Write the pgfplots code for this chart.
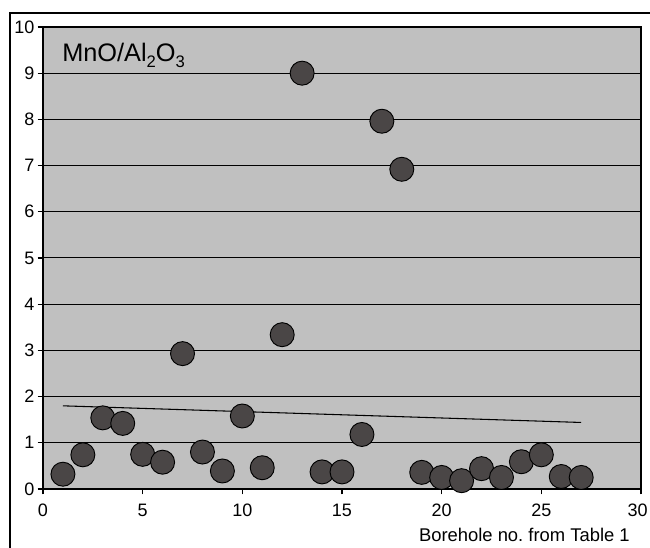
\documentclass[border=0pt]{standalone}
\usepackage{fontspec}
\setmainfont{Liberation Sans}
\usepackage{pgfplots}
\pgfplotsset{compat=1.18}
\definecolor{bggray}{HTML}{C0C0C0}
\definecolor{dotgray}{HTML}{4A4646}
\newcommand{\ticksize}{\fontsize{13.5}{16}\selectfont}
\begin{document}
\begin{tikzpicture}
% page and outer frame
\useasboundingbox (0,0) rectangle (487.5pt,411pt);
\draw[black, line width=1.1pt] (7.5pt,-2pt) rectangle (490pt,401.25pt);
\begin{axis}[
  at={(32.25pt,44.25pt)}, anchor=south west,
  scale only axis, width=448.5pt, height=346.5pt,
  xmin=0, xmax=30, ymin=0, ymax=10,
  xtick={0,5,...,25}, ytick={0,1,...,10},
  extra x ticks={30},
  extra x tick style={xticklabel style={xshift=-2.5pt}},
  xtick pos=bottom, ytick pos=left,
  tick align=outside, major tick length=4pt,
  tick style={black, line width=0.8pt},
  axis line style={black, line width=1.1pt},
  axis background/.style={fill=bggray},
  ymajorgrids, major grid style={black, line width=0.75pt},
  /pgf/number format/assume math mode=true,
  xticklabel style={font=\ticksize, yshift=-4pt},
  yticklabel style={font=\ticksize, xshift=1pt},
  clip=false,
]
% linear trend
\addplot[black, line width=0.8pt, forget plot] coordinates {(1,1.80) (27,1.44)};
% MnO/Al2O3 per borehole
\addplot[only marks, mark=*, mark size=9pt,
  mark options={fill=dotgray, draw=black, line width=0.7pt}] coordinates {
 (1,0.32) (2,0.74) (3,1.54) (4,1.42) (5,0.75) (6,0.58) (7,2.93) (8,0.80)
 (9,0.39) (10,1.58) (11,0.46) (12,3.34) (13,9.00) (14,0.37) (15,0.37)
 (16,1.18) (17,7.96) (18,6.92) (19,0.36) (20,0.25) (21,0.18) (22,0.44)
 (23,0.25) (24,0.59) (25,0.74) (26,0.27) (27,0.25)
};
\end{axis}
\node[anchor=base west, inner sep=0, font=\fontsize{19}{22}\selectfont]
  at (46.5pt,364.5pt) {MnO/Al\raisebox{-0.4ex}{\fontsize{12.5}{13}\selectfont 2}O\raisebox{-0.4ex}{\fontsize{12.5}{13}\selectfont 3}};
\node[anchor=base east, inner sep=0, font=\fontsize{13.8}{16}\selectfont]
  at (472.5pt,5pt) {Borehole no.\ from Table 1};
\end{tikzpicture}
\end{document}
